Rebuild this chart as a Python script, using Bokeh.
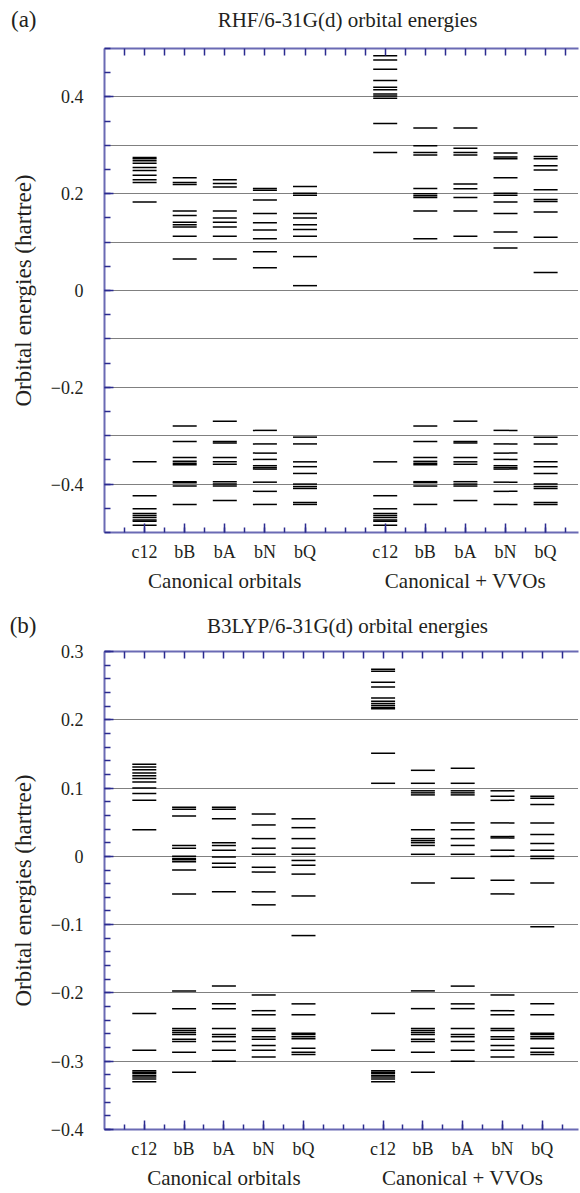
import numpy as np
from bokeh.plotting import figure
from bokeh.layouts import column
from bokeh.models import (FixedTicker, LinearAxis, CustomJSTickFormatter,
                          ColumnDataSource, Range1d)
from bokeh.core.properties import value
from bokeh.embed import file_html
from bokeh.resources import INLINE

# ---------------- data ----------------
categories = ["c12", "bB", "bA", "bN", "bQ"]
groups = ["Canonical orbitals", "Canonical + VVOs"]
group_first_pos = [1, 7]
panel_tags = ["(a)", "(b)"]
panel_titles = ["RHF/6-31G(d) orbital energies", "B3LYP/6-31G(d) orbital energies"]

# (a) RHF/6-31G(d): occupied levels (identical in both groups)
rhf_occ_c12 = [-0.354, -0.424, -0.451, -0.461, -0.465, -0.469, -0.474, -0.477, -0.485]
rhf_occ_bB = [-0.280, -0.312, -0.345, -0.353, -0.357, -0.360, -0.395, -0.397, -0.404, -0.442]
rhf_occ_bA = [-0.270, -0.312, -0.315, -0.345, -0.354, -0.359, -0.395, -0.400, -0.404, -0.434]
rhf_occ_bN = [-0.289, -0.317, -0.336, -0.349, -0.362, -0.366, -0.369, -0.396, -0.415, -0.442]
rhf_occ_bQ = [-0.303, -0.317, -0.354, -0.364, -0.378, -0.400, -0.405, -0.409, -0.438, -0.442]
# (a) virtual levels, canonical orbitals
rhf_can_c12 = [0.275, 0.272, 0.268, 0.263, 0.254, 0.248, 0.238, 0.229, 0.223, 0.183]
rhf_can_bB = [0.233, 0.223, 0.219, 0.164, 0.155, 0.141, 0.136, 0.131, 0.112, 0.065]
rhf_can_bA = [0.229, 0.221, 0.214, 0.164, 0.150, 0.141, 0.131, 0.112, 0.065]
rhf_can_bN = [0.211, 0.207, 0.187, 0.159, 0.140, 0.125, 0.107, 0.080, 0.047]
rhf_can_bQ = [0.215, 0.201, 0.197, 0.159, 0.150, 0.136, 0.126, 0.112, 0.070, 0.010]
# (a) virtual levels, canonical + VVOs
rhf_vvo_c12 = [0.485, 0.476, 0.457, 0.434, 0.420, 0.415, 0.406, 0.402, 0.397, 0.345, 0.285]
rhf_vvo_bB = [0.336, 0.299, 0.285, 0.280, 0.211, 0.200, 0.196, 0.192, 0.164, 0.107]
rhf_vvo_bA = [0.336, 0.294, 0.285, 0.280, 0.220, 0.210, 0.192, 0.164, 0.112]
rhf_vvo_bN = [0.284, 0.276, 0.272, 0.233, 0.201, 0.197, 0.183, 0.159, 0.121, 0.088]
rhf_vvo_bQ = [0.277, 0.272, 0.258, 0.249, 0.208, 0.188, 0.184, 0.162, 0.110, 0.037]

# (b) B3LYP/6-31G(d): occupied levels (identical in both groups)
b3_occ_c12 = [-0.230, -0.284, -0.314, -0.316, -0.318, -0.321, -0.323, -0.326, -0.330]
b3_occ_bB = [-0.197, -0.223, -0.252, -0.255, -0.258, -0.261, -0.268, -0.271, -0.287, -0.316]
b3_occ_bA = [-0.190, -0.216, -0.223, -0.252, -0.261, -0.264, -0.271, -0.284, -0.300]
b3_occ_bN = [-0.203, -0.226, -0.232, -0.252, -0.255, -0.264, -0.268, -0.277, -0.284, -0.294]
b3_occ_bQ = [-0.216, -0.232, -0.259, -0.261, -0.264, -0.267, -0.281, -0.287, -0.290]
# (b) virtual levels, canonical orbitals
b3_can_c12 = [0.135, 0.131, 0.127, 0.122, 0.118, 0.114, 0.109, 0.100, 0.092, 0.082, 0.039]
b3_can_bB = [0.072, 0.069, 0.059, 0.016, 0.012, 0.000, -0.003, -0.005, -0.008, -0.020, -0.055]
b3_can_bA = [0.072, 0.069, 0.055, 0.020, 0.016, 0.009, -0.001, -0.010, -0.016, -0.052]
b3_can_bN = [0.062, 0.046, 0.026, 0.012, 0.003, -0.016, -0.023, -0.052, -0.071]
b3_can_bQ = [0.055, 0.042, 0.026, 0.012, 0.003, -0.006, -0.013, -0.026, -0.058, -0.116]
# (b) virtual levels, canonical + VVOs
b3_vvo_c12 = [0.274, 0.271, 0.255, 0.248, 0.232, 0.227, 0.224, 0.221, 0.218, 0.216, 0.151, 0.107]
b3_vvo_bB = [0.126, 0.107, 0.096, 0.093, 0.090, 0.039, 0.026, 0.023, 0.020, 0.016, 0.003, -0.039]
b3_vvo_bA = [0.129, 0.107, 0.096, 0.093, 0.090, 0.049, 0.039, 0.026, 0.016, 0.003, -0.032]
b3_vvo_bN = [0.096, 0.088, 0.082, 0.049, 0.029, 0.027, 0.009, 0.000, -0.035, -0.055]
b3_vvo_bQ = [0.088, 0.085, 0.076, 0.049, 0.032, 0.019, 0.009, 0.000, -0.003, -0.039, -0.103]

rhf_occ = [rhf_occ_c12, rhf_occ_bB, rhf_occ_bA, rhf_occ_bN, rhf_occ_bQ]
rhf_can = [rhf_can_c12, rhf_can_bB, rhf_can_bA, rhf_can_bN, rhf_can_bQ]
rhf_vvo = [rhf_vvo_c12, rhf_vvo_bB, rhf_vvo_bA, rhf_vvo_bN, rhf_vvo_bQ]
b3_occ = [b3_occ_c12, b3_occ_bB, b3_occ_bA, b3_occ_bN, b3_occ_bQ]
b3_can = [b3_can_c12, b3_can_bB, b3_can_bA, b3_can_bN, b3_can_bQ]
b3_vvo = [b3_vvo_c12, b3_vvo_bB, b3_vvo_bA, b3_vvo_bN, b3_vvo_bQ]

# ---------------- style ----------------
FONT = "Liberation Serif"
TXT = "#231f20"
AXL = "#6a6ab4"   # axis line
AXT = "#2b2b8f"   # ticks
W = 580
L = 104           # common left border (column aligns plot frames)
R = 2


def levels_source(occ, can, vvo):
    xs, ys = [], []
    for g, vir in enumerate([can, vvo]):
        for i in range(len(categories)):
            pos = group_first_pos[g] + i
            for v in list(occ[i]) + list(vir[i]):
                xs.append(pos)
                ys.append(v)
    return ColumnDataSource(dict(x=xs, y=ys))


def make_header(k, height, text_y, title_x):
    # frame spans [L, W-R] so x data equals page x
    h = figure(width=W, height=height, output_backend="svg", toolbar_location=None,
               x_range=Range1d(L, W - R), y_range=Range1d(0, height),
               min_border_left=L, min_border_right=R, min_border_top=0, min_border_bottom=0,
               x_axis_location=None, y_axis_location="left")
    h.outline_line_color = None
    h.xgrid.visible = False
    h.ygrid.visible = False
    ya = h.yaxis[0]
    ya.ticker = FixedTicker(ticks=[text_y], minor_ticks=[])
    ya.major_label_overrides = {text_y: panel_tags[k]}
    ya.major_label_text_font = FONT
    ya.major_label_text_font_size = "23px"
    ya.major_label_text_color = TXT
    ya.major_label_standoff = 62
    ya.axis_line_color = None
    ya.major_tick_line_color = None
    ya.minor_tick_line_color = None
    h.text(x=[title_x], y=[text_y], text=[panel_titles[k]], text_font=value(FONT),
           text_font_size="21px", text_color=TXT, text_align="center",
           text_baseline="middle")
    return h


def make_panel(occ, can, vvo, ylo, yhi, tick_lo, tick_hi, ymajor, yminor, grid_lo, grid_hi,
               height, border_top, border_bottom, xmax):
    p = figure(width=W, height=height, output_backend="svg", toolbar_location=None,
               x_range=Range1d(0, xmax), y_range=Range1d(ylo, yhi),
               min_border_left=L, min_border_right=R,
               min_border_top=border_top, min_border_bottom=border_bottom,
               x_axis_location=None, y_axis_location="left")
    p.outline_line_color = None

    src = levels_source(occ, can, vvo)
    p.scatter(x="x", y="y", marker="dash", size=24, line_color="black",
              line_width=1.5, source=src)

    # y axis
    ya = p.yaxis[0]
    ya.ticker = FixedTicker(ticks=list(np.round(np.arange(tick_lo, tick_hi + 1e-9, ymajor), 3)),
                            minor_ticks=list(np.round(np.arange(ylo, yhi + 1e-9, yminor), 3)))
    ya.formatter = CustomJSTickFormatter(code="""
        const k = Math.round(tick * 10);
        if (k === 0) return '0';
        const s = (Math.abs(k) / 10).toFixed(1);
        return k < 0 ? '\u2212' + s : s;
    """)
    ya.axis_label = "Orbital energies (hartree)"
    ya.axis_label_text_font = FONT
    ya.axis_label_text_font_size = "23px"
    ya.axis_label_text_font_style = "normal"
    ya.axis_label_text_color = TXT
    ya.axis_label_standoff = 12
    ya.major_label_text_font = FONT
    ya.major_label_text_font_size = "18px"
    ya.major_label_text_color = TXT
    ya.major_label_standoff = 21
    ya.axis_line_color = AXL
    ya.axis_line_width = 2
    ya.major_tick_line_color = AXT
    ya.minor_tick_line_color = AXT
    ya.major_tick_line_width = 1.5
    ya.minor_tick_line_width = 1.5
    ya.major_tick_in = 9
    ya.major_tick_out = 0
    ya.minor_tick_in = 6
    ya.minor_tick_out = 0

    # dotted grid every 0.1 inside the frame
    p.xgrid.visible = False
    p.ygrid[0].ticker = FixedTicker(ticks=list(np.round(np.arange(grid_lo, grid_hi + 1e-9, 0.1), 3)))
    p.ygrid[0].grid_line_color = "#000000"
    p.ygrid[0].grid_line_dash = "1 1"
    p.ygrid[0].grid_line_width = 1

    # x axes
    major_pos = [group_first_pos[g] + i for g in range(2) for i in range(len(categories))]
    half_pos = list(np.arange(0.5, 12, 0.5))
    xt = FixedTicker(ticks=major_pos, minor_ticks=half_pos)
    overrides = {group_first_pos[g] + i: c for g in range(2) for i, c in enumerate(categories)}

    bottom = LinearAxis(ticker=xt, major_label_overrides=overrides,
                        major_label_text_font=FONT, major_label_text_font_size="18px",
                        major_label_text_color=TXT, major_label_standoff=9,
                        axis_line_color=AXL, axis_line_width=2,
                        major_tick_line_color=AXT, minor_tick_line_color=AXT,
                        major_tick_line_width=1.5, minor_tick_line_width=1.5,
                        major_tick_in=9, major_tick_out=0, minor_tick_in=5, minor_tick_out=0)
    p.add_layout(bottom, "below")

    group_pos = [group_first_pos[g] + 2 for g in range(2)]
    gaxis = LinearAxis(ticker=FixedTicker(ticks=group_pos, minor_ticks=[]),
                       major_label_overrides={group_pos[g]: groups[g] for g in range(2)},
                       major_label_text_font=FONT, major_label_text_font_size="21px",
                       major_label_text_color=TXT, major_label_standoff=4,
                       axis_line_color=None, major_tick_line_color=None,
                       minor_tick_line_color=None, major_tick_in=0, major_tick_out=0)
    p.add_layout(gaxis, "below")

    top = LinearAxis(ticker=FixedTicker(ticks=[], minor_ticks=half_pos),
                     axis_line_color=AXL, axis_line_width=2,
                     minor_tick_line_color=AXT, minor_tick_line_width=1.5,
                     minor_tick_in=7, minor_tick_out=0, major_tick_out=0,
                     major_label_standoff=0)
    p.add_layout(top, "above")
    return p


ha = make_header(0, height=38, text_y=19, title_x=347)
pa = make_panel(rhf_occ, rhf_can, rhf_vvo, -0.5, 0.5, -0.4, 0.4, 0.2, 0.05, -0.4, 0.4,
                height=562, border_top=10, border_bottom=68, xmax=11.82)
hb = make_header(1, height=38, text_y=13, title_x=347)
pb = make_panel(b3_occ, b3_can, b3_vvo, -0.4, 0.3, -0.4, 0.3, 0.1, 0.02, -0.3, 0.2,
                height=555, border_top=13, border_bottom=64, xmax=11.91)

layout = column(ha, pa, hb, pb, spacing=0)
with open("out.html", "w", encoding="utf-8") as f:
    f.write(file_html(layout, INLINE))
